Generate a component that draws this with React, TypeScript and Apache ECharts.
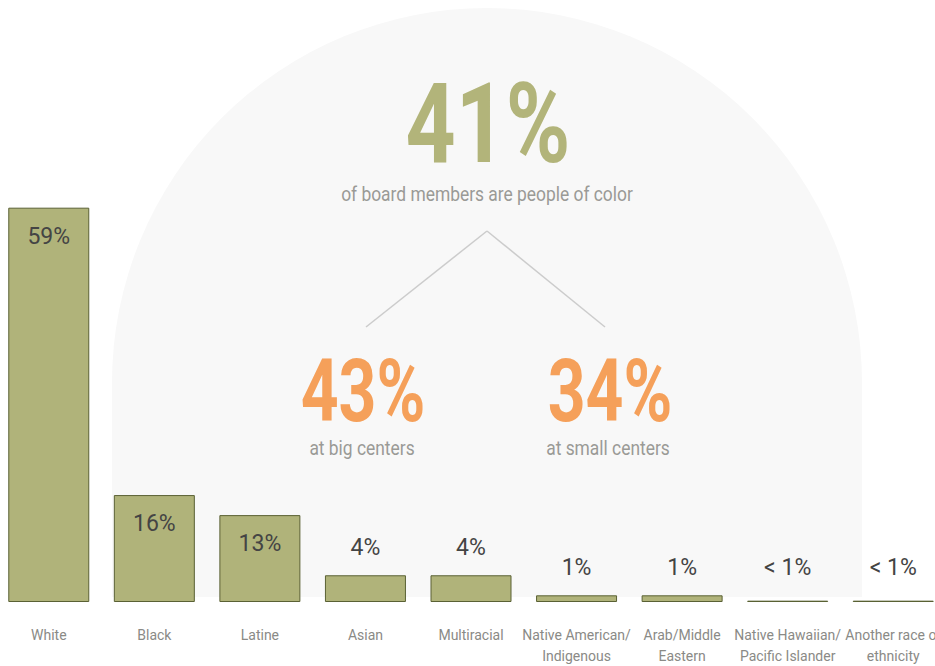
import React, { useEffect, useRef } from "react";
import * as echarts from "echarts";

const categories = [
  "White",
  "Black",
  "Latine",
  "Asian",
  "Multiracial",
  "Native American/\nIndigenous",
  "Arab/Middle\nEastern",
  "Native Hawaiian/\nPacific Islander",
  "Another race or\nethnicity",
];
const values = [59, 16, 13, 4, 4, 1, 1, 0.2, 0.2];
const valueLabels = ["59%", "16%", "13%", "4%", "4%", "1%", "1%", "< 1%", "< 1%"];
const headline = "41%";
const headlineText = "of board members are people of color";
const bigCenters = "43%";
const bigCentersText = "at big centers";
const smallCenters = "34%";
const smallCentersText = "at small centers";

const FONT = "Roboto, 'Noto Sans', sans-serif";
const OX = 4; // chart div is shifted 4px left

export default function App() {
  const ref = useRef<HTMLDivElement>(null);
  useEffect(() => {
    if (!ref.current) return;
    const chart = echarts.init(ref.current, undefined, { renderer: "svg" });
    const data = values.map((v, i) => {
      const inside = v >= 10;
      return {
        value: v,
        label: {
          show: true,
          formatter: valueLabels[i],
          position: inside ? "insideTop" : "top",
          distance: inside ? 17 : v < 0.5 ? 22 : 16,
          color: "#444444",
          fontSize: 23,
          fontFamily: FONT,
        },
      };
    });
    const txt = (x: number, y: number, text: string, fill: string, font: string, sx: number) => ({
      type: "text",
      x: x + OX,
      y,
      scaleX: sx,
      style: { text, fill, font, align: "center", verticalAlign: "middle" },
    });
    chart.setOption({
      animation: false,
      backgroundColor: "#ffffff",
      grid: { left: 0, right: 0, top: 201, bottom: 64, containLabel: false },
      xAxis: {
        type: "category",
        data: categories,
        axisLine: { show: false },
        axisTick: { show: false },
        axisLabel: {
          color: "#8a8a86",
          fontSize: 14,
          fontFamily: FONT,
          lineHeight: 21,
          margin: 22,
          interval: 0,
        },
      },
      yAxis: {
        type: "value",
        min: 0,
        max: 60,
        show: false,
        splitLine: { show: false },
      },
      graphic: [
        {
          type: "group",
          z: -10,
          silent: true,
          children: [
            {
              type: "rect",
              shape: { x: 112 + OX, y: 382, width: 750, height: 215 },
              style: { fill: "#f8f8f8" },
            },
            {
              type: "sector",
              shape: { cx: 487 + OX, cy: 383, r: 375, r0: 0, startAngle: Math.PI, endAngle: 2 * Math.PI },
              style: { fill: "#f8f8f8" },
            },
          ],
        },
        {
          type: "line",
          shape: { x1: 487 + OX, y1: 231, x2: 366 + OX, y2: 327 },
          style: { stroke: "#cccccc", lineWidth: 1.5 },
        },
        {
          type: "line",
          shape: { x1: 487 + OX, y1: 231, x2: 605 + OX, y2: 327 },
          style: { stroke: "#cccccc", lineWidth: 1.5 },
        },
        txt(488, 124, headline, "#b2b47a", `bold 112px ${FONT}`, 0.78),
        txt(487, 195, headlineText, "#9a9a96", `20px ${FONT}`, 0.87),
        txt(363, 391, bigCenters, "#f5a05a", `bold 87px ${FONT}`, 0.76),
        txt(362, 449, bigCentersText, "#9a9a96", `20px ${FONT}`, 0.87),
        txt(610, 391, smallCenters, "#f5a05a", `bold 87px ${FONT}`, 0.76),
        txt(608, 449, smallCentersText, "#9a9a96", `20px ${FONT}`, 0.87),
      ],
      series: [
        {
          type: "bar",
          data,
          barWidth: 81,
          itemStyle: { color: "#b0b37a", borderColor: "#5a6134", borderWidth: 1 },
        },
      ],
    });
    return () => chart.dispose();
  }, []);
  return (
    <div
      ref={ref}
      style={{ position: "fixed", left: -OX, top: 0, width: 950, height: 666 }}
    />
  );
}
